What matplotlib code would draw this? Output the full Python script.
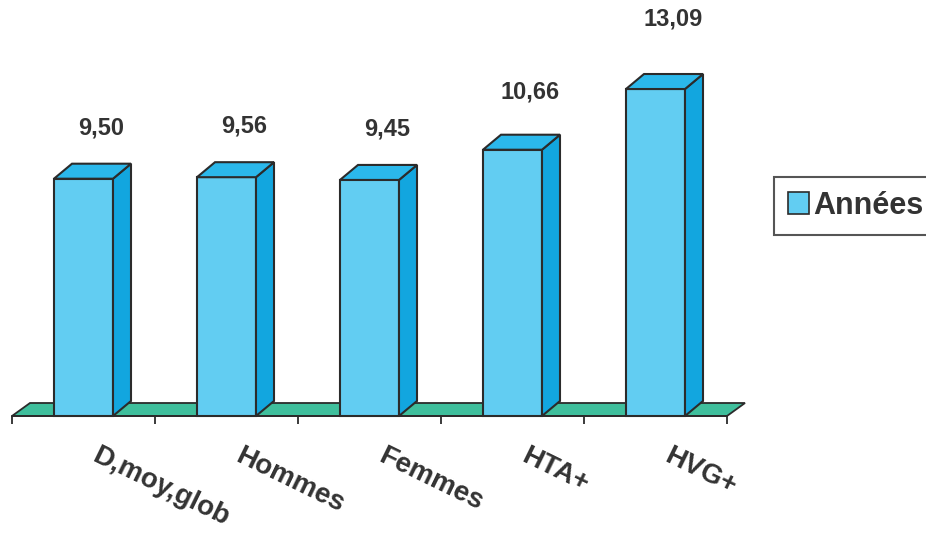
import matplotlib
matplotlib.use("Agg")
import matplotlib.pyplot as plt
from matplotlib.patches import Polygon, Patch
import numpy as np

categories = ["D,moy,glob", "Hommes", "Femmes", "HTA+", "HVG+"]
values = [9.50, 9.56, 9.45, 10.66, 13.09]
series_name = "Années"

plt.rcParams['font.family'] = ['Liberation Sans', 'DejaVu Sans']

W, H = 926, 534
fig = plt.figure(figsize=(W / 100, H / 100), dpi=100)
ax = fig.add_axes([0, 0, 1, 1])

px_x = 143.0          # pixels per category
px_y = 24.98          # pixels per unit
x_left_px = 12
y0_px = 416
ax.set_xlim(-0.5 - x_left_px / px_x, -0.5 + (W - x_left_px) / px_x)
ax.set_ylim(-(H - y0_px) / px_y, y0_px / px_y)

front_c = "#62CDF2"
side_c = "#12A6DF"
top_c = "#2BB8EB"
floor_c = "#3FBF9C"
edge_c = "#2b2b2b"
text_c = "#333333"

bw = 59 / px_x
dx = 18 / px_x
dy = 15 / px_y
fdy = 13 / px_y

n = len(categories)
xs = np.arange(n)

# floor
floor = Polygon([(-0.5, 0), (n - 0.5, 0), (n - 0.5 + dx, fdy), (-0.5 + dx, fdy)],
                closed=True, facecolor=floor_c, edgecolor=edge_c, lw=1.3, zorder=1)
ax.add_patch(floor)

for i, v in zip(xs, values):
    x0 = i - bw / 2
    x1 = i + bw / 2
    ax.bar(i, v, width=bw, bottom=0, color=front_c, edgecolor=edge_c, lw=1.5, zorder=3)
    side = Polygon([(x1, 0), (x1 + dx, dy), (x1 + dx, v + dy), (x1, v)], closed=True,
                   facecolor=side_c, edgecolor=edge_c, lw=1.5, zorder=3)
    top = Polygon([(x0, v), (x0 + dx, v + dy), (x1 + dx, v + dy), (x1, v)], closed=True,
                  facecolor=top_c, edgecolor=edge_c, lw=1.5, zorder=3)
    ax.add_patch(side)
    ax.add_patch(top)
    ax.text(i + dx, v * 1.215, f"{v:.2f}".replace('.', ','), ha='center', va='center',
            fontsize=17, fontweight='bold', color=text_c)
    ax.text(i + 16 / px_x, -27 / px_y, categories[i], rotation=-26, rotation_mode='anchor',
            ha='left', va='top', fontsize=20, fontweight='bold', color=text_c)

# axis spine & ticks
for s in ['left', 'right', 'top']:
    ax.spines[s].set_visible(False)
ax.spines['bottom'].set_position(('data', 0))
ax.spines['bottom'].set_bounds(-0.5, n - 0.5)
ax.spines['bottom'].set_linewidth(1.3)
ax.spines['bottom'].set_color(edge_c)
ax.spines['bottom'].set_zorder(2)
ax.set_xticks(np.arange(-0.5, n, 1.0))
ax.set_xticklabels([])
ax.tick_params(axis='x', direction='out', length=6, width=1.3, color=edge_c)
ax.set_yticks([])
ax.patch.set_visible(False)

leg = ax.legend(handles=[Patch(facecolor=front_c, edgecolor=edge_c, lw=1.2, label=series_name)],
                loc='upper left', bbox_to_anchor=(774 / W, 1 - 177 / H),
                bbox_transform=fig.transFigure, fancybox=False, frameon=True,
                prop={'size': 22, 'weight': 'bold'}, handlelength=0.7, handleheight=0.7,
                handletextpad=0.15, borderpad=0.45, borderaxespad=0)
leg.get_frame().set_edgecolor(edge_c)
leg.get_frame().set_linewidth(1.5)
for t in leg.get_texts():
    t.set_color(text_c)

fig.savefig("out.png", dpi=100)
